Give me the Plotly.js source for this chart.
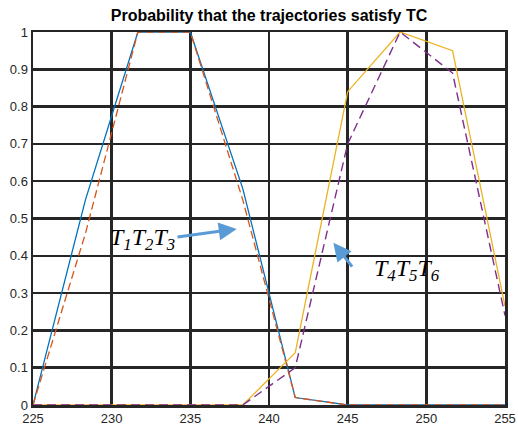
<!DOCTYPE html>
<html>
<head>
<meta charset="utf-8">
<script src="https://cdn.plot.ly/plotly-3.0.1.min.js"></script>
<style>html,body{margin:0;padding:0;background:#fff;}#chart{width:518px;height:426px;}</style>
</head>
<body>
<div id="chart"></div>
<script>
// Sample positions (linspace 225..255, 10 points)
const xValues = [225, 228.333, 231.667, 235, 238.333, 241.667, 245, 248.333, 251.667, 255];
// T1 T2 T3 group
const seriesBlue   = [0, 0.55, 1, 1, 0.58, 0.02, 0, 0, 0, 0];
const seriesOrange = [0, 0.46, 1, 1, 0.55, 0.02, 0, 0, 0, 0];
// T4 T5 T6 group
const seriesYellow = [0, 0, 0, 0, 0, 0.14, 0.84, 1, 0.95, 0.265];
const seriesPurple = [0, 0, 0, 0, 0, 0.10, 0.70, 1, 0.89, 0.24];

const xTicks = [225, 230, 235, 240, 245, 250, 255];
const yTicks = [0, 0.1, 0.2, 0.3, 0.4, 0.5, 0.6, 0.7, 0.8, 0.9, 1];
const yTickText = ['0', '0.1', '0.2', '0.3', '0.4', '0.5', '0.6', '0.7', '0.8', '0.9', '1'];

const titleText = 'Probability that the trajectories satisfy TC';
const label1 = 'T<sub>1</sub>T<sub>2</sub>T<sub>3</sub>';
const label2 = 'T<sub>4</sub>T<sub>5</sub>T<sub>6</sub>';

const traces = [
  {x: xValues, y: seriesBlue, mode: 'lines', line: {color: '#0072BD', width: 1.3}},
  {x: xValues, y: seriesOrange, mode: 'lines', line: {color: '#D95319', width: 1.3, dash: '8px,4px'}},
  {x: xValues, y: seriesYellow, mode: 'lines', line: {color: '#EDB120', width: 1.3}},
  {x: xValues, y: seriesPurple, mode: 'lines', line: {color: '#7E2F8E', width: 1.4, dash: '9px,5px'}}
];

const axisCommon = {
  showline: true, mirror: true, linecolor: '#262626', linewidth: 2.5,
  showgrid: true, gridcolor: '#262626', gridwidth: 2.5,
  zeroline: false, ticks: '', automargin: false,
  tickfont: {family: '"Liberation Sans", Arial, sans-serif', size: 13, color: '#262626'}
};

const arrowColor = '#5B9BD5';
const serifFont = {family: '"Liberation Serif", "Times New Roman", serif', size: 24, color: '#000'};

const layout = {
  width: 518, height: 426,
  margin: {l: 33, r: 13, t: 32, b: 21},
  paper_bgcolor: '#fff', plot_bgcolor: '#fff',
  showlegend: false,
  title: {text: '<b>' + titleText + '</b>', x: 0.5, xref: 'paper', y: 0.965, yref: 'container', yanchor: 'middle',
          font: {family: '"Liberation Sans", Arial, sans-serif', size: 16, color: '#000'}},
  xaxis: Object.assign({}, axisCommon, {range: [225, 255], tickvals: xTicks, ticktext: xTicks.map(String)}),
  yaxis: Object.assign({}, axisCommon, {range: [0, 1], tickvals: yTicks, ticktext: yTickText}),
  annotations: [
    {x: 231.93, y: 0.444, xref: 'x', yref: 'y', text: '<i>' + label1 + '</i>', showarrow: false, font: serifFont},
    {x: 248.78, y: 0.363, xref: 'x', yref: 'y', text: '<i>' + label2 + '</i>', showarrow: false, font: serifFont},
    {x: 237.95, y: 0.472, ax: 234.09, ay: 0.45, xref: 'x', yref: 'y', axref: 'x', ayref: 'y', text: '',
     showarrow: true, arrowhead: 2, arrowsize: 1.2, arrowwidth: 3, arrowcolor: arrowColor, standoff: 0},
    {x: 244.09, y: 0.435, ax: 245.36, ay: 0.367, xref: 'x', yref: 'y', axref: 'x', ayref: 'y', text: '',
     showarrow: true, arrowhead: 2, arrowsize: 1.2, arrowwidth: 3, arrowcolor: arrowColor, standoff: 0}
  ]
};

Plotly.newPlot('chart', traces, layout, {staticPlot: true, displayModeBar: false});
</script>
</body>
</html>
